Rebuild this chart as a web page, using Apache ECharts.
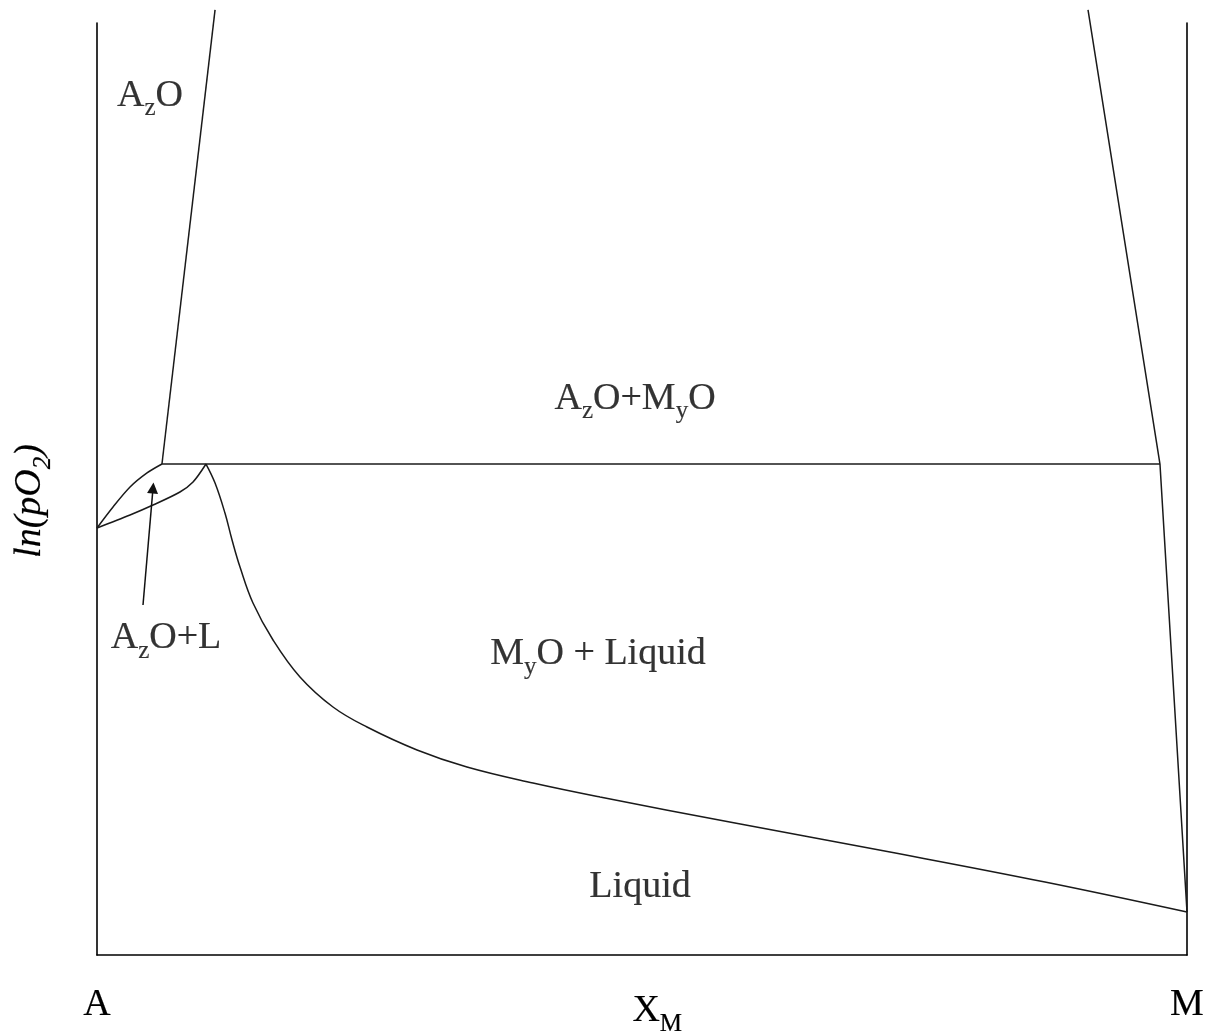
<!DOCTYPE html>
<html>
<head>
<meta charset="utf-8">
<script src="https://cdn.jsdelivr.net/npm/echarts@6/dist/echarts.min.js"></script>
<style>
html, body { margin: 0; padding: 0; background: #fff; }
#chart { width: 1209px; height: 1033px; }
</style>
</head>
<body>
<div id="chart"></div>
<script>
// composition X_M in % (A = 0, M = 100), ln(pO2) in arbitrary units
const xTickValues = [0, 51.4, 100]
const xTickLabels = ['A', 'X{sub|M}', 'M']
const yAxisTitle = 'ln(pO{sub|2})'

// phase boundaries
const azoBoundary = [[10.83, 101.4], [5.96, 52.68]]
const threePhaseLine = [[5.96, 52.68], [97.52, 52.68]]
const myoBoundary = [[90.92, 101.4], [97.52, 52.68], [100, 4.61]]
const lensUpper = [[0, 45.82], [1.47, 48.07], [3.03, 50.21], [4.59, 51.72], [5.96, 52.68]]
const lensLower = [[0, 45.82], [3.03, 47.21], [5.14, 48.28], [7.61, 49.68], [8.81, 50.75], [10.0, 52.68]]
const liquidus = [
  [10.00, 52.68], [10.83, 50.64], [11.74, 47.42], [12.39, 44.53], [13.12, 41.63],
  [14.31, 37.77], [16.15, 33.80], [18.62, 29.83], [21.65, 26.61], [24.77, 24.46],
  [29.36, 22.00], [33.94, 20.17], [40.00, 18.45], [46.15, 16.95],
  [58.53, 14.16], [72.75, 11.05], [86.97, 7.83], [100, 4.61]
]
const arrowLine = [[4.22, 37.55], [5.14, 50.1]]

// region labels
const regionNames = ['A{sub|z}O', 'A{sub|z}O+M{sub|y}O', 'A{sub|z}O+L', 'M{sub|y}O + Liquid', 'Liquid']
const regionX = [4.86, 49.36, 6.33, 45.96, 49.82]
const regionY = [92.2, 59.7, 34.0, 32.3, 7.3]

const serif = '"Liberation Serif", "Times New Roman", serif'
const ink = { color: '#000', textBorderColor: '#000', textBorderWidth: 0.2 }
const richSub = {
  sub: Object.assign({ fontFamily: serif, fontSize: 25, padding: [26, 0, 0, 0] }, ink)
}
const lineStyle = { color: '#1a1a1a', width: 1.5 }
const axisLineStyle = { color: '#000', width: 1.6 }

const boundary = (name, data, smooth) => ({
  name: name,
  type: 'line',
  data: data,
  smooth: smooth || false,
  smoothMonotone: 'none',
  showSymbol: false,
  symbol: 'none',
  clip: false,
  lineStyle: lineStyle,
  z: 3
})

const chart = echarts.init(document.getElementById('chart'))
chart.setOption({
  animation: false,
  backgroundColor: '#fff',
  grid: {
    left: 97,
    right: 22,
    top: 23,
    bottom: 78,
    containLabel: false,
    outerBoundsMode: 'none'
  },
  xAxis: {
    type: 'value',
    min: 0,
    max: 100,
    axisLine: { show: true, onZero: false, lineStyle: axisLineStyle },
    axisTick: { show: false },
    splitLine: { show: false },
    axisLabel: Object.assign({
      customValues: xTickValues,
      margin: 31,
      fontFamily: serif,
      fontSize: 38,
      formatter: function (v) {
        return xTickLabels[xTickValues.indexOf(v)]
      },
      rich: richSub
    }, ink)
  },
  yAxis: [
    {
      type: 'value',
      min: 0,
      max: 100,
      position: 'left',
      name: yAxisTitle,
      nameLocation: 'middle',
      nameRotate: 90,
      nameGap: 41,
      nameTextStyle: Object.assign({
        fontFamily: serif,
        fontSize: 38,
        fontStyle: 'italic',
        padding: [0, 24, 0, 0],
        rich: {
          sub: Object.assign({ fontFamily: serif, fontSize: 25, fontStyle: 'italic', padding: [26, 0, 0, 0] }, ink)
        }
      }, ink),
      axisLine: { show: true, onZero: false, lineStyle: axisLineStyle },
      axisTick: { show: false },
      axisLabel: { show: false },
      splitLine: { show: false }
    },
    {
      type: 'value',
      min: 0,
      max: 100,
      position: 'right',
      axisLine: { show: true, onZero: false, lineStyle: axisLineStyle },
      axisTick: { show: false },
      axisLabel: { show: false },
      splitLine: { show: false }
    }
  ],
  series: [
    boundary('AzO boundary', azoBoundary),
    boundary('three phase', threePhaseLine),
    boundary('MyO boundary', myoBoundary),
    boundary('lens upper', lensUpper, 0.3),
    boundary('lens lower', lensLower, 0.3),
    boundary('liquidus', liquidus, 0.4),
    {
      name: 'arrow',
      type: 'line',
      data: [],
      markLine: {
        silent: true,
        symbol: ['none', 'triangle'],
        symbolSize: 11,
        label: { show: false },
        lineStyle: { color: '#111', width: 1.5, type: 'solid' },
        data: [[{ coord: arrowLine[0] }, { coord: arrowLine[1] }]]
      }
    },
    {
      name: 'regions',
      type: 'scatter',
      symbolSize: 1,
      itemStyle: { color: 'rgba(0,0,0,0)' },
      data: regionNames.map((n, i) => ({ name: n, value: [regionX[i], regionY[i]] })),
      label: Object.assign({
        show: true,
        position: 'inside',
        formatter: function (p) { return p.name },
        fontFamily: serif,
        fontSize: 38,
        rich: richSub
      }, ink),
      z: 5
    }
  ]
})
</script>
</body>
</html>
